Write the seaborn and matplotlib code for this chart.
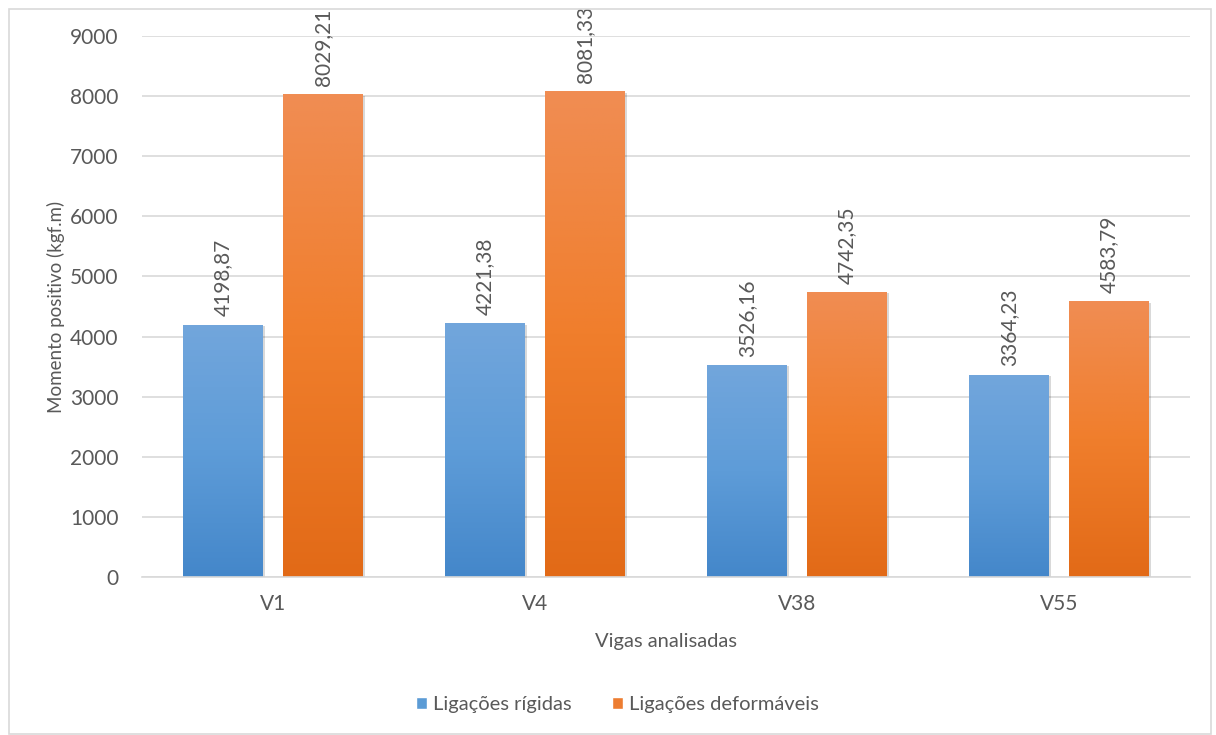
import numpy as np
import pandas as pd
import seaborn as sns
import matplotlib
matplotlib.use("Agg")
from matplotlib import pyplot as plt
from matplotlib.colors import LinearSegmentedColormap
from matplotlib.patches import Rectangle
import matplotlib.patheffects as pe

vigas = ["V1", "V4", "V38", "V55"]
rigidas = [4198.87, 4221.38, 3526.16, 3364.23]
deformaveis = [8029.21, 8081.33, 4742.35, 4583.79]
series = ["Ligações rígidas", "Ligações deformáveis"]

df = pd.DataFrame({
    "Viga": vigas * 2,
    "Momento": rigidas + deformaveis,
    "Serie": [series[0]] * 4 + [series[1]] * 4,
})

sns.set_theme(style="white")
plt.rcParams["font.family"] = ["Lato", "DejaVu Sans"]
txt = "#595959"

fig = plt.figure(figsize=(12.16, 7.35), dpi=100)
ax = fig.add_axes([0.1168, 0.215, 0.8618, 0.736])

pal = {series[0]: "#5B9BD5", series[1]: "#ED7D31"}
sns.barplot(data=df, x="Viga", y="Momento", hue="Serie", palette=pal,
            width=0.763, gap=0.2, ax=ax, legend=True, saturation=1)

# gradient fill on each bar (light top, dark bottom)
grads = {
    series[0]: LinearSegmentedColormap.from_list("b", ["#4487CA", "#5E9CD8", "#72A6DC"]),
    series[1]: LinearSegmentedColormap.from_list("o", ["#E26A17", "#F07E2C", "#F08D53"]),
}
for cont, name in zip(ax.containers, series):
    for bar in cont:
        x0, y0 = bar.get_x(), bar.get_y()
        w, h = bar.get_width(), bar.get_height()
        bar.set_facecolor("none")
        bar.set_edgecolor("none")
        im = ax.imshow(np.linspace(0, 1, 256).reshape(-1, 1), cmap=grads[name],
                       extent=[x0, x0 + w, y0, y0 + h], origin="lower",
                       aspect="auto", zorder=2)
        im.set_clip_path(bar)
        sh = Rectangle((x0, y0), w, h, facecolor="none", edgecolor="none", zorder=1.9,
                       path_effects=[pe.SimplePatchShadow(offset=(1.5, -1), shadow_rgbFace="#000000", alpha=0.15)])
        ax.add_patch(sh)
    ax.bar_label(cont, labels=[f"{v:.2f}".replace(".", ",") for v in cont.datavalues],
                 rotation=90, padding=6, color=txt, fontsize=15)

ax.set_xlim(-0.5, 3.5)
ax.set_ylim(0, 9000)
ax.set_yticks(range(0, 9001, 1000))
ax.yaxis.grid(True, color="#D9D9D9", linewidth=1.2)
ax.set_axisbelow(True)
for s in ["top", "right", "left"]:
    ax.spines[s].set_visible(False)
ax.spines["bottom"].set_color("#D9D9D9")
ax.spines["bottom"].set_linewidth(1.2)
ax.tick_params(axis="both", length=0, labelsize=15, colors=txt, pad=17)
ax.tick_params(axis="x", pad=12)
ax.set_xlabel("Vigas analisadas", fontsize=14.5, color=txt, labelpad=14)
ax.set_ylabel("Momento positivo (kgf.m)", fontsize=13.5, color=txt, labelpad=3.5)

leg = ax.get_legend()
handles = leg.legend_handles
leg.remove()
fig.legend(handles, series, loc="center", bbox_to_anchor=(0.508, 0.041), ncol=2,
           frameon=False, fontsize=14.5, labelcolor=txt, handlelength=0.55,
           handleheight=0.55, handletextpad=0.3, columnspacing=2.0)

fig.patches.append(Rectangle((9 / 1216, 1 / 735), 1202 / 1216, 725 / 735,
                             transform=fig.transFigure, fill=False,
                             edgecolor="#D9D9D9", linewidth=1.2))

fig.savefig("out.png", dpi=100)
